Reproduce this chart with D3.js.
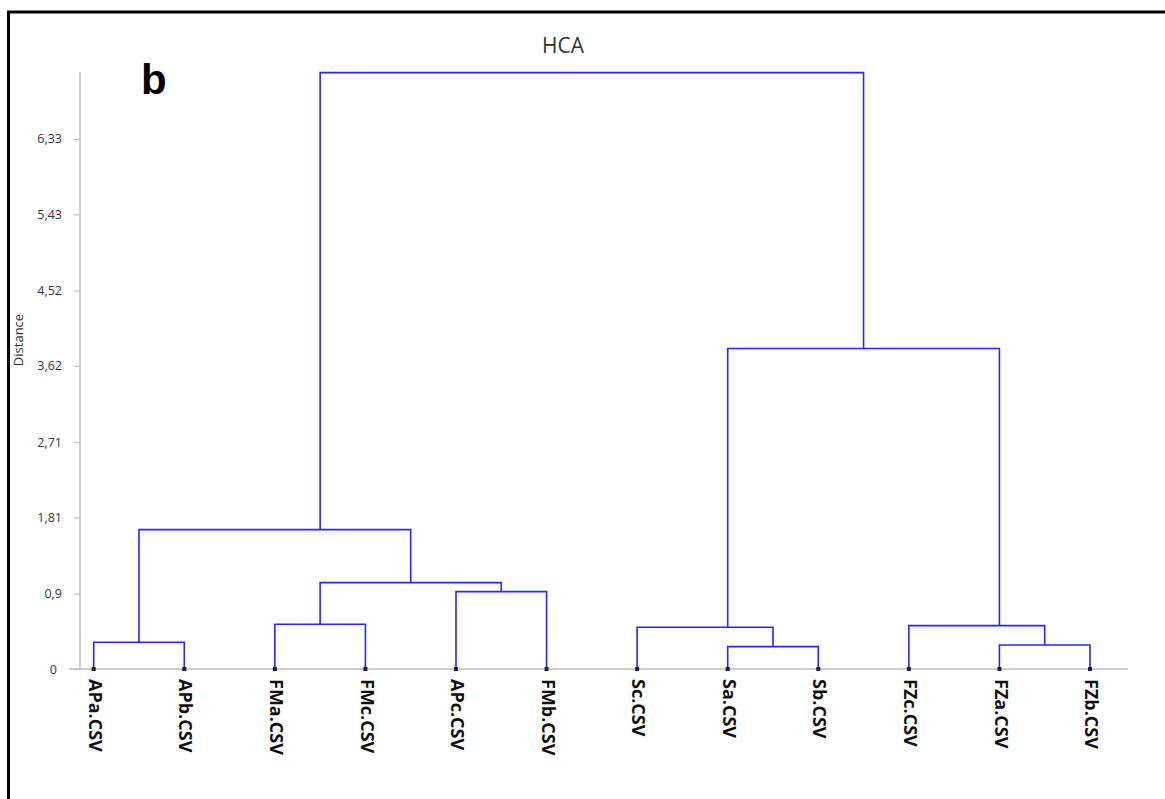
<!DOCTYPE html>
<html><head><meta charset="utf-8">
<script src="https://cdn.jsdelivr.net/npm/d3@7"></script>
<style>body{margin:0;background:#fff;}svg{display:block;}</style>
</head><body>
<svg id="c" width="1165" height="799"></svg>
<script>
// Leaves in dendrogram order
const leaves = ["APa.CSV","APb.CSV","FMa.CSV","FMc.CSV","APc.CSV","FMb.CSV","Sc.CSV","Sa.CSV","Sb.CSV","FZc.CSV","FZa.CSV","FZb.CSV"];
// Linkage: node ids 0..11 = leaves, 12.. = merges
const mergeLeft   = [7, 10, 0, 6, 9, 2, 4, 17, 14, 15, 20];
const mergeRight  = [8, 11, 1, 12, 13, 3, 5, 18, 19, 16, 21];
const mergeHeight = [0.267, 0.287, 0.319, 0.498, 0.518, 0.534, 0.924, 1.031, 1.665, 3.828, 7.122];
// Y axis ticks
const tickValues = [0, 0.9, 1.81, 2.71, 3.62, 4.52, 5.43, 6.33];
const tickLabels = ["0", "0,9", "1,81", "2,71", "3,62", "4,52", "5,43", "6,33"];
const yMax = 7.13;

const svg = d3.select("#c");
const x = d3.scalePoint().domain(leaves).range([93.7, 1090]);
const y = d3.scaleLinear().domain([0, yMax]).range([669, 72]);

// Build tree
const n = leaves.length;
const nodes = leaves.map((name, i) => ({id: i, name, height: 0, children: null}));
mergeHeight.forEach((h, k) => {
  nodes.push({id: n + k, height: h, children: [nodes[mergeLeft[k]], nodes[mergeRight[k]]]});
});
const root = d3.hierarchy(nodes[nodes.length - 1], d => d.children);
root.eachAfter(d => {
  if (!d.children) d.px = x(d.data.name);
  else d.px = d3.mean(d.leaves(), l => x(l.data.name));
  d.py = y(d.data.height);
});

// Frame
svg.append("rect").attr("x", 8.5).attr("y", 12).attr("width", 1200).attr("height", 900)
  .attr("fill", "none").attr("stroke", "#000").attr("stroke-width", 3);

// Axes
const axisColor = "#bdbdbd";
svg.append("line").attr("x1", 69).attr("x2", 1128).attr("y1", y(0)).attr("y2", y(0))
  .attr("stroke", axisColor).attr("stroke-width", 1.5);
svg.append("line").attr("x1", 80).attr("x2", 80).attr("y1", y(yMax)).attr("y2", y(0))
  .attr("stroke", axisColor).attr("stroke-width", 1.5);
const yAxis = d3.axisLeft(y).tickValues(tickValues).tickSize(6).tickPadding(12)
  .tickFormat((d, i) => tickLabels[i]);
const gy = svg.append("g").attr("transform", "translate(80,0)").call(yAxis);
gy.select(".domain").remove();
gy.selectAll(".tick line").attr("stroke", axisColor).attr("stroke-width", 1.2);
gy.selectAll(".tick text").attr("fill", "#33334a").style("font-family", "'Open Sans', sans-serif").style("font-size", "12.5px");
gy.selectAll(".tick").filter(d => d === 0).select("text").attr("x", -23);

svg.append("text").attr("transform", "translate(20,340) rotate(-90)").attr("text-anchor", "middle")
  .attr("dominant-baseline", "middle")
  .style("font-family", "'Open Sans', sans-serif").style("font-size", "13px").attr("fill", "#333")
  .text("Distance");

// Title
svg.append("text").attr("x", 563).attr("y", 53).attr("text-anchor", "middle")
  .style("font-family", "'Open Sans', sans-serif").style("font-size", "21px").attr("fill", "#333")
  .text("HCA");
svg.append("text").attr("x", 141).attr("y", 94)
  .style("font-family", "'Liberation Sans', Arial, sans-serif").style("font-size", "42px").style("font-weight", "bold")
  .attr("fill", "#000").text("b");

// Dendrogram links
const g = svg.append("g");
root.descendants().filter(d => d.children).forEach(d => {
  const [a, b] = d.children;
  const path = d3.path();
  path.moveTo(a.px, a.py);
  path.lineTo(a.px, d.py);
  path.lineTo(b.px, d.py);
  path.lineTo(b.px, b.py);
  g.append("path").attr("d", path.toString()).attr("fill", "none")
    .attr("stroke", "#2626ff").attr("stroke-width", 1.6);
});

// Leaf markers
svg.selectAll(".mk").data(root.leaves()).enter().append("rect")
  .attr("x", d => d.px - 2).attr("y", y(0) - 2).attr("width", 4).attr("height", 4)
  .attr("fill", "#222");

// Leaf labels
svg.selectAll(".lbl").data(leaves).enter().append("text")
  .attr("transform", d => `translate(${x(d)},679) rotate(90)`)
  .attr("dominant-baseline", "middle")
  .style("font-family", "'Open Sans', sans-serif").style("font-size", "18px").style("font-weight", "bold")
  .attr("fill", "#111").text(d => d);
</script>
</body></html>
